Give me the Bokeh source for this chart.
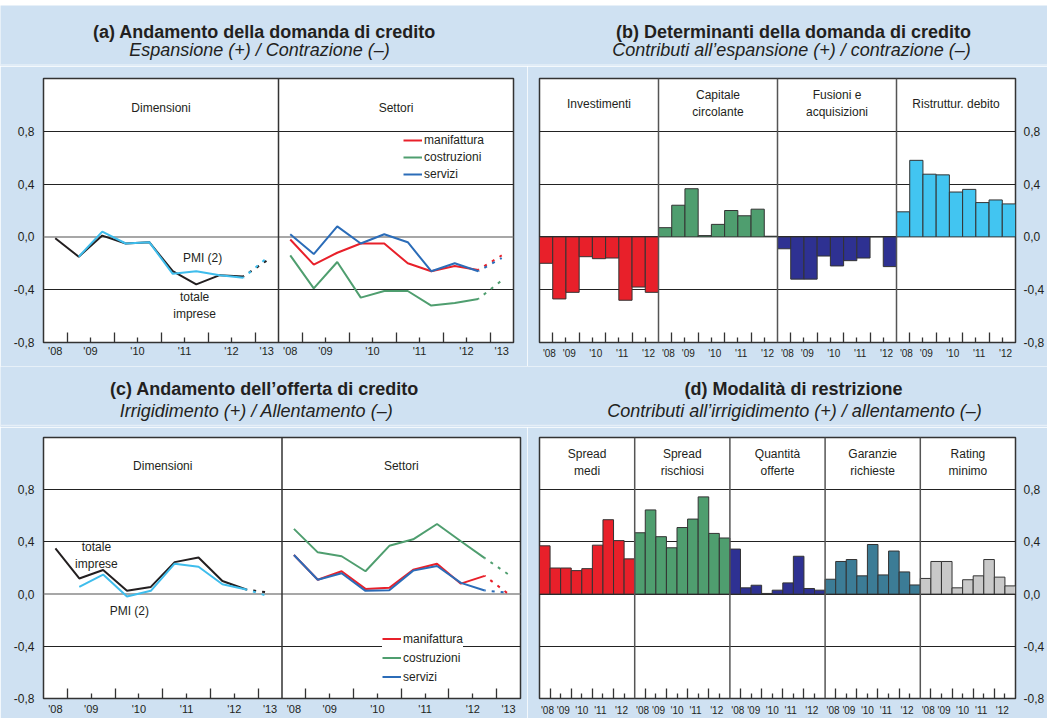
from bokeh.plotting import figure
from bokeh.models import FixedTicker, LinearAxis, Span, Legend, LegendItem, Range1d
from bokeh.layouts import row, column
from bokeh.embed import file_html
from bokeh.resources import INLINE
from bokeh.core.properties import value

BG = "#cfe1f2"
DARK = "#231f20"
FONT = "Liberation Sans"

# ---------------- data ----------------
semesters = ["2008-S2", "2009-S1", "2009-S2", "2010-S1", "2010-S2",
             "2011-S1", "2011-S2", "2012-S1", "2012-S2"]
forecast_period = "2013-S1"
line_year_labels = ["'08", "'09", "'10", "'11", "'12", "'13"]
bar_year_labels = ["'08", "'09", "'10", "'11", "'12"]
y_ticks = [-0.8, -0.4, 0.0, 0.4, 0.8]
y_tick_labels = ["-0,8", "-0,4", "0,0", "0,4", "0,8"]

titles_top = ["(a) Andamento della domanda di credito", "(b) Determinanti della domanda di credito"]
subtitles_top = ["Espansione (+) / Contrazione (\u2013)",
                 "Contributi all\u2019espansione (+) / contrazione (\u2013)"]
titles_bottom = ["(c) Andamento dell\u2019offerta di credito", "(d) Modalit\u00e0 di restrizione"]
subtitles_bottom = ["Irrigidimento (+) / Allentamento (\u2013)",
                    "Contributi all\u2019irrigidimento (+) / allentamento (\u2013)"]

# (a) demand, by size (PMI series starts 2009-S1)
dem_totale = [-0.01, -0.15, 0.01, -0.05, -0.04, -0.26, -0.36, -0.29, -0.30]
dem_totale_fc = -0.18
dem_pmi = [-0.15, 0.04, -0.05, -0.04, -0.28, -0.26, -0.29, -0.31]
dem_pmi_fc = -0.16
# (a) demand, by sector
dem_manifattura = [-0.02, -0.21, -0.12, -0.05, -0.05, -0.20, -0.26, -0.22, -0.25]
dem_manifattura_fc = -0.14
dem_costruzioni = [-0.14, -0.39, -0.19, -0.46, -0.41, -0.41, -0.52, -0.50, -0.47]
dem_costruzioni_fc = -0.33
dem_servizi = [0.02, -0.13, 0.08, -0.05, 0.02, -0.04, -0.26, -0.20, -0.26]
dem_servizi_fc = -0.16

# (b) determinants of demand
b_groups = ["Investimenti", "Capitale\ncircolante", "Fusioni e\nacquisizioni", "Ristruttur. debito"]
investimenti = [-0.20, -0.47, -0.42, -0.15, -0.165, -0.16, -0.48, -0.38, -0.42]
capitale_circolante = [0.07, 0.24, 0.365, 0.01, 0.095, 0.20, 0.16, 0.21, 0.005]
fusioni_acquisizioni = [-0.09, -0.32, -0.32, -0.145, -0.22, -0.18, -0.16, 0.0, -0.225]
ristrutturazione_debito = [0.19, 0.58, 0.475, 0.47, 0.34, 0.36, 0.26, 0.28, 0.25]

# (c) supply, by size
off_totale = [0.35, 0.12, 0.185, 0.025, 0.055, 0.245, 0.28, 0.10, 0.035]
off_totale_fc = 0.01
off_pmi = [0.056, 0.15, -0.018, 0.025, 0.233, 0.21, 0.076, 0.035]
off_pmi_fc = -0.02
# (c) supply, by sector
off_manifattura = [0.30, 0.11, 0.175, 0.04, 0.048, 0.187, 0.233, 0.08, 0.14]
off_manifattura_fc = 0.0
off_costruzioni = [0.50, 0.32, 0.29, 0.175, 0.37, 0.42, 0.537, 0.405, 0.276]
off_costruzioni_fc = 0.15
off_servizi = [0.30, 0.11, 0.16, 0.025, 0.03, 0.18, 0.215, 0.086, 0.028]
off_servizi_fc = 0.01

# (d) restriction modes
d_groups = ["Spread\nmedi", "Spread\nrischiosi", "Quantità\nofferte", "Garanzie\nrichieste", "Rating\nminimo"]
spread_medi = [0.37, 0.20, 0.20, 0.18, 0.195, 0.375, 0.57, 0.41, 0.27]
spread_rischiosi = [0.47, 0.645, 0.44, 0.355, 0.51, 0.575, 0.745, 0.465, 0.43]
quantita_offerte = [0.345, 0.048, 0.068, 0.005, 0.03, 0.086, 0.29, 0.043, 0.03]
garanzie_richieste = [0.114, 0.25, 0.265, 0.14, 0.38, 0.147, 0.33, 0.17, 0.07]
rating_minimo = [0.12, 0.25, 0.25, 0.048, 0.11, 0.14, 0.265, 0.13, 0.063]

RED = "#e8202a"
GREEN = "#4f9e6f"
BLUE = "#2b6cb8"
LIGHTBLUE = "#3fbdec"
NAVY = "#2e3192"
SKY = "#42c5f1"
TEAL = "#3c7c96"
GREY = "#c9c9c9"

N = len(semesters)          # observed slots per sub-panel (bars)
NL = N + 1                  # slots per line sub-panel (with forecast)


def make_fig(w, h, bl, br, bt, bb, xmax, y_side, y_standoff, zero_grey):
    p = figure(width=w, height=h, x_range=Range1d(0, xmax), y_range=Range1d(-0.8, 1.2),
               y_axis_location=y_side, output_backend="svg", toolbar_location=None,
               min_border_left=bl, min_border_right=br, min_border_top=bt, min_border_bottom=bb,
               background_fill_color="white", border_fill_color=BG,
               outline_line_color="#333333", outline_line_width=1.5)
    p.xgrid.visible = False
    p.ygrid.ticker = FixedTicker(ticks=[-0.4, 0.4, 0.8] if zero_grey else [-0.4, 0.0, 0.4, 0.8])
    p.ygrid.grid_line_color = "#222222"
    p.ygrid.grid_line_width = 1
    if zero_grey:
        p.add_layout(Span(location=0, dimension="width", line_color="#8a8a8a",
                          line_width=1.5, level="underlay"))
    yax = p.yaxis[0]
    yax.ticker = FixedTicker(ticks=y_ticks)
    yax.major_label_overrides = dict(zip(y_ticks, y_tick_labels))
    yax.major_tick_in = 0
    yax.major_tick_out = 0
    yax.minor_tick_in = 0
    yax.minor_tick_out = 0
    yax.axis_line_color = None
    yax.major_label_text_font = FONT
    yax.major_label_text_font_size = "12px"
    yax.major_label_text_color = DARK
    yax.major_label_standoff = y_standoff
    return p


def tick_axis(ax, positions, length):
    ax.ticker = FixedTicker(ticks=[], minor_ticks=positions)
    ax.major_tick_in = 0
    ax.major_tick_out = 0
    ax.minor_tick_in = length
    ax.minor_tick_out = 0
    ax.minor_tick_line_color = "#333333"
    ax.minor_tick_line_width = 1.3
    ax.major_label_standoff = 0
    ax.axis_line_color = None


def set_xaxis(p, short, long_, label_pos, labels, font_size, standoff):
    tick_axis(p.xaxis[0], long_, 10)
    ax2 = LinearAxis()
    tick_axis(ax2, short, 5)
    p.add_layout(ax2, "below")
    lab = LinearAxis(ticker=FixedTicker(ticks=label_pos, minor_ticks=[]),
                     major_label_overrides=dict(zip(label_pos, labels)),
                     major_tick_in=0, major_tick_out=0, minor_tick_in=0, minor_tick_out=0,
                     axis_line_color=None, major_label_standoff=standoff,
                     major_label_text_font=FONT, major_label_text_font_size=font_size,
                     major_label_text_color=DARK)
    p.add_layout(lab, "below")


def add_series(p, offset, values, color, start=0, fc=None):
    xs = [offset + start + i + 0.5 for i in range(len(values))]
    r = p.line(xs, values, line_color=color, line_width=2)
    if fc is not None:
        p.line([xs[-1], offset + N + 0.5], [values[-1], fc], line_color=color, line_width=2,
               line_dash="3 6", line_dash_offset=2)
    return r


def add_text(p, xs, ys, texts, size="12px"):
    p.text(x=xs, y=ys, text=texts, text_font=value(FONT), text_font_size=size,
           text_align="center", text_baseline="middle", text_color=DARK, text_line_height=1.25)


def line_panel(w, h, bl, br, bt, bb, label_standoff):
    p = make_fig(w, h, bl, br, bt, bb, 2 * NL, "left", 9, True)
    short = [k * NL + s for k in range(2) for s in (2, 4, 6, 8)]
    long_ = [k * NL + s for k in range(2) for s in (1, 3, 5, 7, 9)]
    lpos = [k * NL + s for k in range(2) for s in (0.5, 2, 4, 6, 8, 9.5)]
    set_xaxis(p, short, long_, lpos, line_year_labels * 2, "11px", label_standoff)
    p.add_layout(Span(location=NL, dimension="height", line_color="#333333", line_width=1.5))
    add_text(p, [NL / 2, NL * 1.5], [0.98, 0.98], ["Dimensioni", "Settori"])
    return p


def bar_panel(w, h, bl, br, bt, bb, groups, series, colors, lab_off, standoff, ylab):
    k_n = len(groups)
    p = make_fig(w, h, bl, br, bt, bb, k_n * N, "right", 8, False)
    short = [k * N + s for k in range(k_n) for s in (2, 4, 6, 8)]
    long_ = [k * N + s for k in range(k_n) for s in (1, 3, 5, 7)]
    lpos = [k * N + s for k in range(k_n) for s in lab_off]
    set_xaxis(p, short, long_, lpos, bar_year_labels * k_n, "10px", standoff)
    for k in range(1, k_n):
        p.add_layout(Span(location=k * N, dimension="height", line_color="#555555", line_width=1.5))
    for k, (vals, col) in enumerate(zip(series, colors)):
        xs = [k * N + i + 0.5 for i in range(len(vals))]
        p.vbar(x=xs, top=vals, bottom=0, width=1, fill_color=col, line_color="#333333", line_width=1)
    add_text(p, [k * N + N / 2 for k in range(k_n)], [ylab] * k_n, groups)
    return p


def title_strip(h, mains, subs, main_x, sub_x, main_y, sub_y, rule_y):
    s = figure(width=1047, height=h, x_range=Range1d(0, 1047), y_range=Range1d(0, h),
               output_backend="svg", toolbar_location=None, x_axis_location=None,
               y_axis_location=None, min_border=0, background_fill_color=BG,
               border_fill_color=BG, outline_line_color=None)
    s.grid.visible = False
    s.add_layout(Span(location=rule_y, dimension="width", line_color="#e6eff8", line_width=1.5))
    s.text(x=main_x, y=[main_y] * len(mains), text=mains, text_font=value(FONT),
           text_font_size="18px", text_font_style="bold", text_align="center",
           text_baseline="middle", text_color=DARK)
    s.text(x=sub_x, y=[sub_y] * len(subs), text=subs, text_font=value(FONT),
           text_font_size="18px", text_font_style="italic", text_align="center",
           text_baseline="middle", text_color=DARK)
    return s


# ---------------- panel (a) ----------------
pa = line_panel(527, 300, 43, 14, 12, 24, 2)
add_series(pa, 0, dem_totale, DARK, fc=dem_totale_fc)
add_series(pa, 0, dem_pmi, LIGHTBLUE, start=1, fc=dem_pmi_fc)
add_text(pa, [6.77, 6.43], [-0.16, -0.52], ["PMI (2)", "totale\nimprese"])
ra_c = add_series(pa, NL, dem_costruzioni, GREEN, fc=dem_costruzioni_fc)
ra_m = add_series(pa, NL, dem_manifattura, RED, fc=dem_manifattura_fc)
ra_s = add_series(pa, NL, dem_servizi, BLUE, fc=dem_servizi_fc)
leg_a = Legend(items=[LegendItem(label="manifattura", renderers=[ra_m]),
                      LegendItem(label="costruzioni", renderers=[ra_c]),
                      LegendItem(label="servizi", renderers=[ra_s])],
               location=(360, 161), label_text_font=FONT, label_text_font_size="12px",
               label_text_color=DARK, glyph_width=19, glyph_height=14, label_height=14,
               label_standoff=2, spacing=3, padding=0, margin=0, border_line_color=None,
               background_fill_alpha=0)
pa.add_layout(leg_a)

# ---------------- panel (b) ----------------
pb = bar_panel(520, 300, 12, 31, 12, 24, b_groups,
               [investimenti, capitale_circolante, fusioni_acquisizioni, ristrutturazione_debito],
               [RED, GREEN, NAVY, SKY],
               (0.75, 2.25, 4.25, 6.25, 8.25), 5, 1.01)

# ---------------- panel (c) ----------------
pc = line_panel(527, 291, 43, 7, 10, 18, 4)
add_series(pc, 0, off_totale, DARK, fc=off_totale_fc)
add_series(pc, 0, off_pmi, LIGHTBLUE, start=1, fc=off_pmi_fc)
add_text(pc, [2.22, 3.6], [0.296, -0.13], ["totale\nimprese", "PMI (2)"])
rc_c = add_series(pc, NL, off_costruzioni, GREEN, fc=off_costruzioni_fc)
rc_m = add_series(pc, NL, off_manifattura, RED, fc=off_manifattura_fc)
rc_s = add_series(pc, NL, off_servizi, BLUE, fc=off_servizi_fc)
leg_c = Legend(items=[LegendItem(label="manifattura", renderers=[rc_m]),
                      LegendItem(label="costruzioni", renderers=[rc_c]),
                      LegendItem(label="servizi", renderers=[rc_s])],
               location=(339, 14), label_text_font=FONT, label_text_font_size="12px",
               label_text_color=DARK, glyph_width=19, glyph_height=15, label_height=15,
               label_standoff=2, spacing=4, padding=8, margin=0, border_line_color=None,
               background_fill_color="white", background_fill_alpha=1)
pc.add_layout(leg_c)

# ---------------- panel (d) ----------------
pd_ = bar_panel(520, 291, 12, 31, 10, 18, d_groups,
                [spread_medi, spread_rischiosi, quantita_offerte, garanzie_richieste, rating_minimo],
                [RED, GREEN, NAVY, TEAL, GREY],
                (0.75, 2.25, 4.0, 5.75, 7.75), 6, 1.01)

# ---------------- title strips & top rule ----------------
strip1 = title_strip(61, titles_top, subtitles_top, [264, 793], [259, 791], 35, 17, 1.5)
strip2 = title_strip(61, titles_bottom, subtitles_bottom, [264, 793], [256, 794], 39, 17, 2)

top = figure(width=1047, height=5, output_backend="svg", toolbar_location=None,
             x_axis_location=None, y_axis_location=None, min_border=0, min_border_top=2,
             background_fill_color="#1f6db3", border_fill_color=BG, outline_line_color=None)
top.grid.visible = False

layout = column(top, strip1, row(pa, pb), strip2, row(pc, pd_))
open("out.html", "w").write(file_html(layout, INLINE))
